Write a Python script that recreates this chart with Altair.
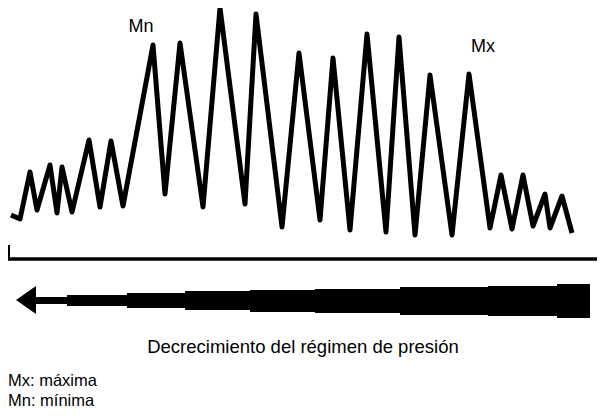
import altair as alt
import pandas as pd

# Pressure trace (x position, height above baseline)
trace_x = [11, 20, 30, 37, 50, 57, 62, 72, 89, 100, 111, 123, 153, 165, 180, 203, 220, 245, 256, 282,
           299, 320, 333, 350, 367, 386, 399, 415, 430, 452, 469, 490, 501, 512, 523, 533, 545, 550, 562, 572]
trace_v = [44, 40, 87, 49, 94, 46, 92, 47, 119, 52, 118, 53, 214, 65, 216, 52, 251, 55, 245, 32,
           206, 39, 201, 29, 225, 27, 222, 24, 184, 24, 185, 31, 84, 30, 84, 33, 65, 31, 63, 26]

# Arrow shaft: widening steps (x, top, bottom)
shaft_x = [36, 67, 127, 185, 250, 315, 400, 488, 557, 590]
shaft_top = [-38, -36, -34, -32, -31, -30, -28, -27, -25, -25]
shaft_bot = [-45, -47, -49, -51, -53, -54, -56, -57, -59, -59]
head_x = [16, 36]
head_top = [-41, -27]
head_bot = [-41, -55]

labels = ["Mn", "Mx", "Decrecimiento del régimen de presión", "Mx: máxima", "Mn: mínima"]
label_x = [141, 483, 303, 8, 8]
label_v = [232, 212, -88, -122, -142]
label_size = [18, 18, 18.5, 16.5, 16.5]
label_align = ["center", "center", "center", "left", "left"]

X = alt.Scale(domain=[8, 597])
Y = alt.Scale(domain=[-151, 251])

trace = pd.DataFrame({"x": trace_x, "v": trace_v})
shaft = pd.DataFrame({"x": shaft_x, "t": shaft_top, "b": shaft_bot})
head = pd.DataFrame({"x": head_x, "t": head_top, "b": head_bot})
lab = pd.DataFrame({"x": label_x, "v": label_v, "text": labels, "align": label_align, "size": label_size})
base = pd.DataFrame({"x": [7], "x2": [605], "v": [0]})
tick = pd.DataFrame({"x": [8.5], "v": [0], "v2": [14]})

line = alt.Chart(trace).mark_line(color="black", strokeWidth=5, strokeJoin="round").encode(
    x=alt.X("x:Q", scale=X, axis=None), y=alt.Y("v:Q", scale=Y, axis=None))

baseline = alt.Chart(base).mark_rule(color="black", strokeWidth=3.5).encode(
    x=alt.X("x:Q", scale=X, axis=None), x2="x2:Q", y=alt.Y("v:Q", scale=Y, axis=None))
vtick = alt.Chart(tick).mark_rule(color="black", strokeWidth=3).encode(
    x=alt.X("x:Q", scale=X, axis=None), y=alt.Y("v:Q", scale=Y, axis=None), y2="v2:Q")

shaft_m = alt.Chart(shaft).mark_area(color="black", interpolate="step-after").encode(
    x=alt.X("x:Q", scale=X, axis=None), y=alt.Y("t:Q", scale=Y, axis=None), y2="b:Q")
head_m = alt.Chart(head).mark_area(color="black").encode(
    x=alt.X("x:Q", scale=X, axis=None), y=alt.Y("t:Q", scale=Y, axis=None), y2="b:Q")

def txt(i):
    return alt.Chart(lab.iloc[[i]]).mark_text(
        font="Liberation Sans", fontSize=label_size[i], color="black",
        align=label_align[i], baseline="middle").encode(
        x=alt.X("x:Q", scale=X, axis=None), y=alt.Y("v:Q", scale=Y, axis=None), text="text:N")

chart = alt.layer(baseline, vtick, line, shaft_m, head_m, *[txt(i) for i in range(len(labels))]).properties(
    width=589, height=402, padding=0, autosize="none", background="white"
).configure_view(stroke=None)

chart.save("out.html", embed_options={"renderer": "svg", "actions": False})
